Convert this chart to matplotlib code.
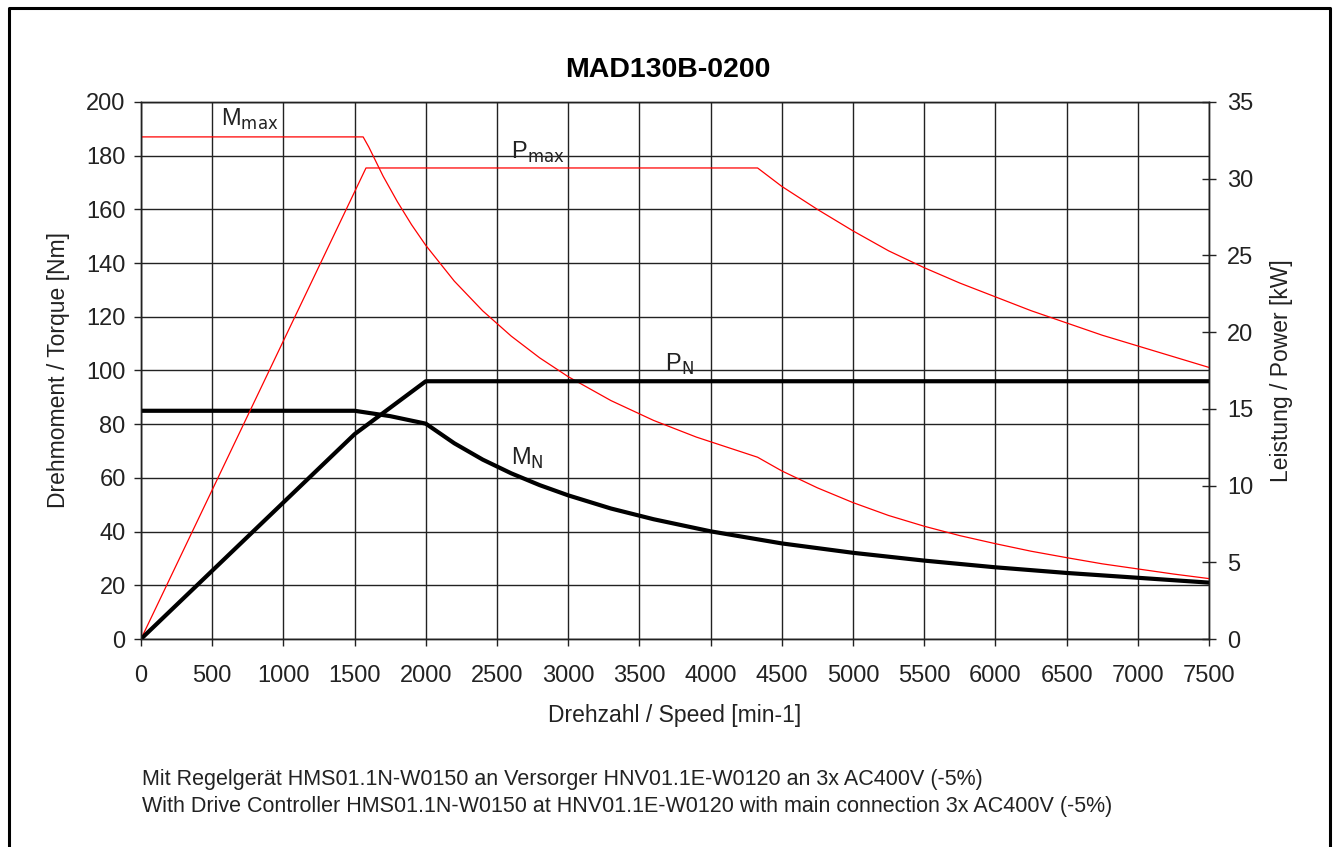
import matplotlib.pyplot as plt
from matplotlib.lines import Line2D

plt.rcParams['font.family'] = ['Liberation Sans', 'DejaVu Sans']

# Max torque curve (Nm)
mmax_speed = [0, 1560, 1600, 1700, 1800, 1900, 2000, 2200, 2400, 2600, 2800, 3000, 3300, 3600, 3900, 4330,
              4500, 4750, 5000, 5250, 5500, 5750, 6000, 6250, 6500, 6750, 7000, 7250, 7500]
mmax_torque = [187, 187, 183.2, 172.4, 162.9, 154.3, 146.6, 133.3, 122.2, 112.8, 104.7, 97.7, 88.8, 81.4, 75.2, 67.7,
               62.6, 56.3, 50.8, 46.0, 42.0, 38.5, 35.5, 32.7, 30.3, 28.0, 26.1, 24.2, 22.5]

# Max power curve (kW)
pmax_speed = [0, 1580, 4330, 4500, 4750, 5000, 5250, 5500, 5750, 6000, 6250, 6500, 6750, 7000, 7250, 7500]
pmax_power = [0, 30.7, 30.7, 29.5, 28.0, 26.6, 25.3, 24.2, 23.2, 22.3, 21.4, 20.6, 19.8, 19.1, 18.4, 17.7]

# Nominal torque (Nm)
mn_speed = [0, 1500, 1750, 2000, 2200, 2400, 2600, 2800, 3000, 3300, 3600, 4000, 4500,
            5000, 5500, 6000, 6500, 7000, 7500]
mn_torque = [85, 85, 83, 80.2, 72.9, 66.8, 61.7, 57.3, 53.5, 48.6, 44.6, 40.1, 35.6,
             32.1, 29.2, 26.7, 24.6, 22.8, 21.0]

# Nominal power (kW)
pn_speed = [0, 500, 1000, 1500, 2000, 7500]
pn_power = [0, 4.45, 8.9, 13.35, 16.8, 16.8]

fig = plt.figure(figsize=(13.38, 8.47), dpi=100)
ax = fig.add_axes([141 / 1338, 1 - 639 / 847, 1068 / 1338, 537 / 847])
ax2 = ax.twinx()

ax.plot(mmax_speed, mmax_torque, color='red', lw=0.9, zorder=3)
ax.plot(mn_speed, mn_torque, color='black', lw=3.0, zorder=3)
ax2.plot(pmax_speed, pmax_power, color='red', lw=0.9)
ax2.plot(pn_speed, pn_power, color='black', lw=3.0)

ax.set_xlim(0, 7500)
ax.set_ylim(0, 200)
ax2.set_ylim(0, 35)
ax.set_xticks(range(0, 7501, 500))
ax.set_yticks(range(0, 201, 20))
ax2.set_yticks(range(0, 36, 5))
ax.grid(True, color='#222222', lw=1.0)
ax.set_axisbelow(True)

for a in (ax, ax2):
    for s in a.spines.values():
        s.set_color('#222222')
        s.set_linewidth(1.0)
ax.tick_params(axis='both', direction='out', length=5, width=1, labelsize=17, pad=6, colors='#222222')
ax.tick_params(axis='x', pad=14)
ax2.tick_params(axis='y', direction='inout', length=10, width=1, labelsize=17, pad=8, colors='#222222')

ax.set_xlabel('Drehzahl / Speed [min-1]', fontsize=16.5, labelpad=12, color='#222222')
ax.set_ylabel('Drehmoment / Torque [Nm]', fontsize=16.5, labelpad=12, color='#222222')
ax2.set_ylabel('Leistung / Power [kW]', fontsize=16.5, labelpad=12, color='#222222')
fig.text(668 / 1338, 1 - 70 / 847, 'MAD130B-0200', fontsize=20.5, fontweight='bold',
         ha='center', va='center')

# Curve labels
ax.text(560, 191, r'M$_{\rm max}$', fontsize=17, color='#222222')
ax.text(2600, 179, r'P$_{\rm max}$', fontsize=17, color='#222222')
ax.text(3680, 100, r'P$_{\rm N}$', fontsize=17, color='#222222')
ax.text(2600, 65, r'M$_{\rm N}$', fontsize=17, color='#222222')

# Footnotes
fig.text(142 / 1338, 1 - 779 / 847, 'Mit Regelgerät HMS01.1N-W0150 an Versorger HNV01.1E-W0120 an 3x AC400V (-5%)',
         fontsize=15.5, va='center', color='#222222')
fig.text(142 / 1338, 1 - 806 / 847, 'With Drive Controller HMS01.1N-W0150 at HNV01.1E-W0120 with main connection 3x AC400V (-5%)',
         fontsize=15.5, va='center', color='#222222')

# Outer frame (left, top, right)
xl, xr, yt = 8.5 / 1338, 1330 / 1338, 1 - 8.5 / 847
fig.add_artist(Line2D([xl, xl, xr, xr], [0, yt, yt, 0], color='black', lw=2.2, transform=fig.transFigure))

plt.savefig('out.png', dpi=100)
